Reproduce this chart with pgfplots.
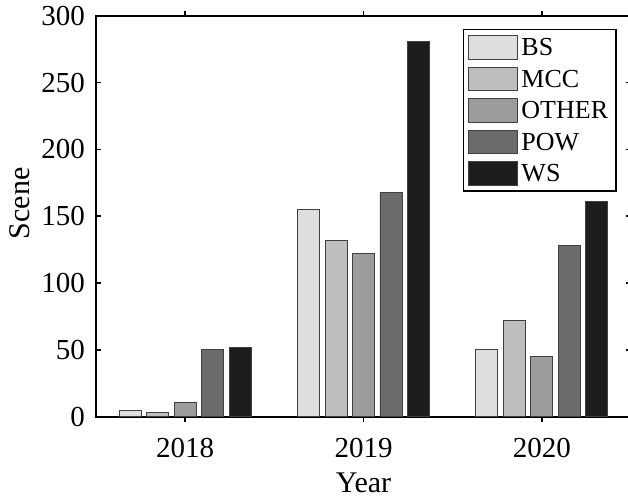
\documentclass[border=0pt]{standalone}
\usepackage{fontspec}
\setmainfont{Liberation Serif}
\usepackage{pgfplots}
\pgfplotsset{compat=1.18}

\definecolor{cBS}{HTML}{DEDEDE}
\definecolor{cMCC}{HTML}{BEBEBE}
\definecolor{cOTHER}{HTML}{9C9C9C}
\definecolor{cPOW}{HTML}{6B6B6B}
\definecolor{cWS}{HTML}{1C1C1C}

\begin{document}
\begin{tikzpicture}[x=1pt,y=1pt]
\begin{axis}[
  at={(96pt,80.3pt)}, anchor=south west,
  scale only axis, width=535pt, height=401pt,
  xmin=0.5, xmax=3.5, ymin=0, ymax=300,
  xtick={1,2,3}, xticklabels={2018,2019,2020},
  ytick={0,50,...,300},
  tick align=inside, major tick length=5pt,
  axis line style={line width=1.8pt},
  every tick/.style={black, line width=1.6pt},
  /pgf/number format/assume math mode=true,
  tick label style={font=\fontsize{29}{34}\selectfont},
  yticklabel style={anchor=east, inner sep=0pt, xshift=-11pt},
  xticklabel style={anchor=north, inner sep=0pt, yshift=-16pt},
  label style={font=\fontsize{30}{36}\selectfont},
  xlabel={Year},
  xlabel style={at={(axis description cs:0.5,0)}, anchor=base, yshift=-75.3pt, inner sep=0pt},
  ylabel={Scene},
  ylabel style={at={(axis description cs:-0.125,0.532)}, anchor=base, inner sep=0pt},
  ybar=5.45pt, bar width=22pt,
  every axis plot/.append style={draw=black!75, line width=0.9pt},
  legend image code/.code={\draw[#1, line width=0.9pt] (0pt,-11pt) rectangle (49pt,12.3pt);},
  legend style={
    at={(rel axis cs:0.9732,0.9668)}, anchor=north east,
    draw=black, line width=1.4pt, fill=white,
    inner xsep=4.5pt, inner ysep=5.5pt,
    row sep=7.3pt, column sep=3.5pt,
    font=\fontsize{26}{30}\selectfont,
    nodes={inner sep=0pt, text width=90pt, align=left},
  },
  legend cell align=left,
]
\addplot[fill=cBS] coordinates {(1,5) (2,155) (3,50)};
\addplot[fill=cMCC] coordinates {(1,3) (2,132) (3,72)};
\addplot[fill=cOTHER] coordinates {(1,11) (2,122) (3,45)};
\addplot[fill=cPOW] coordinates {(1,50) (2,168) (3,128)};
\addplot[fill=cWS] coordinates {(1,52) (2,281) (3,161)};
\legend{BS,MCC,OTHER,POW,WS}
\end{axis}
\pgfresetboundingbox
\path[use as bounding box] (0pt,0pt) rectangle (628pt,497pt);
\end{tikzpicture}
\end{document}
